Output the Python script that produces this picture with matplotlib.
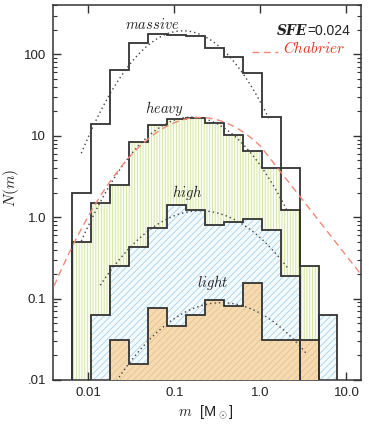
import numpy as np
import matplotlib
matplotlib.use('Agg')
import matplotlib.pyplot as plt
from matplotlib.ticker import FixedLocator, LogLocator, NullLocator, NullFormatter

# DATA

# bin edges, log10(m / Msun)
log_edges = [-2.19, -1.965, -1.745, -1.525, -1.305, -1.085, -0.86, -0.64,
             -0.425, -0.205, 0.02, 0.237, 0.456, 0.676, 0.895]

massive = [2.0, 14, 64, 137, 177, 175, 170, 121, 94, 59, 17, 4.0, 0, 0]
heavy = [0.49, 1.5, 2.5, 8.5, 13.6, 16.2, 16.6, 14.2, 10.1, 6.5, 4.0, 1.24, 0.25, 0]
high = [0, 0.062, 0.25, 0.43, 0.74, 1.43, 1.24, 0.81, 0.88, 0.94, 0.70, 0.19, 0, 0.062]
light = [0, 0, 0.031, 0.0156, 0.076, 0.046, 0.062, 0.095, 0.082, 0.154, 0.031, 0.031, 0.031, 0]

# lognormal fits (dotted): peak N, log m at peak, curvature (dex), log m range
fit_names = ['massive', 'heavy', 'high', 'light']
fit_peak = [195, 17.0, 1.20, 0.089]
fit_logm0 = [-0.90, -0.80, -0.70, -0.45]
fit_curv = [1.08, 0.93, 0.68, 0.645]
fit_lo = [-2.08, -2.08, -1.86, -1.67]
fit_hi = [0.11, 0.32, 0.32, 0.53]

# Chabrier (2005) IMF, scaled
chab_peak = 16.8
chab_mc = 0.2
chab_sigma = 0.55
chab_slope = -1.35

sfe = 0.024

# PLOT

plt.rcParams['font.family'] = 'Liberation Sans'
plt.rcParams['mathtext.fontset'] = 'cm'
plt.rcParams['hatch.linewidth'] = 0.6

fig = plt.figure(figsize=(3.69, 4.24), dpi=100)
ax = fig.add_axes([0.1436, 0.1038, 0.8344, 0.8844])
ax.set_xscale('log')
ax.set_yscale('log')

edges = 10 ** np.array(log_edges)
floor = 1e-5
line_col = '#333333'


def plot_vals(v):
    v = np.array(v, dtype=float)
    return np.where(v > 0, v, floor)


# filled histograms
ax.stairs(plot_vals(heavy), edges, baseline=floor, fill=True, facecolor='#fbfdf2',
          edgecolor='#cfe39c', hatch='||||||', linewidth=0, zorder=1)
ax.stairs(plot_vals(high), edges, baseline=floor, fill=True, facecolor='#f5fbfd',
          edgecolor='#a6d3ea', hatch='/////', linewidth=0, zorder=2)
ax.stairs(plot_vals(light), edges, baseline=floor, fill=True, facecolor='#f6dbb0',
          edgecolor='#e2c394', hatch='/////', linewidth=0, zorder=3)

# outlines
for vals in [massive, heavy, high, light]:
    ax.stairs(plot_vals(vals), edges, baseline=floor, fill=False,
              color=line_col, linewidth=1.3, zorder=4)

# dotted lognormal fits
for i in range(len(fit_names)):
    lm = np.linspace(fit_lo[i], fit_hi[i], 200)
    n = fit_peak[i] * 10 ** (-fit_curv[i] * (lm - fit_logm0[i]) ** 2)
    ax.plot(10 ** lm, n, color='#444444', linestyle=(0, (1, 2.2)), linewidth=1.0, zorder=5)

# Chabrier curve
m = np.logspace(np.log10(0.004), np.log10(15), 400)
lmc = np.log10(chab_mc)
lognorm = chab_peak * np.exp(-(np.log10(m) - lmc) ** 2 / (2 * chab_sigma ** 2))
tail = chab_peak * np.exp(-lmc ** 2 / (2 * chab_sigma ** 2)) * m ** chab_slope
chab = np.where(m < 1, lognorm, tail)
ax.plot(m, chab, color='#f08a78', linestyle=(0, (5, 3.2)), linewidth=1.0, zorder=6)

ax.set_xlim(0.0039, 14.7)
ax.set_ylim(0.01, 405)

ax.xaxis.set_major_locator(FixedLocator([0.01, 0.1, 1, 10]))
ax.xaxis.set_minor_locator(NullLocator())
ax.set_xticklabels(['0.01', '0.1', '1.0', '10.0'])
ax.yaxis.set_major_locator(FixedLocator([0.01, 0.1, 1, 10, 100]))
ax.yaxis.set_minor_locator(LogLocator(base=10, subs=np.arange(2, 10)))
ax.yaxis.set_minor_formatter(NullFormatter())
ax.set_yticklabels(['.01', '0.1', '1.0', '10', '100'])

ax.tick_params(which='both', direction='in', top=True, right=True,
               color=line_col, labelsize=9.5, labelcolor='#222222')
ax.tick_params(which='major', length=6, width=1.0, pad=5)
ax.tick_params(which='minor', length=3, width=0.8)
for sp in ax.spines.values():
    sp.set_color(line_col)
    sp.set_linewidth(1.1)

# labels
for name, x, y in [('massive', 0.321, 0.949), ('heavy', 0.364, 0.723),
                   ('high', 0.435, 0.501), ('light', 0.519, 0.259)]:
    ax.text(x, y, '$' + name + '$', transform=ax.transAxes, ha='center', va='center',
            fontsize=10.5, color='#222222', zorder=7)

t = ax.text(0.964, 0.931, '=%.3f' % sfe, transform=ax.transAxes, ha='right',
            va='center', fontsize=10, color='#222222')
ax.annotate('SFE', xy=(0, 0), xycoords=t, ha='right', va='bottom',
            fontsize=10, fontweight='bold', fontstyle='italic',
            family='DejaVu Serif', color='#222222')

ax.plot([0.646, 0.730], [0.875, 0.875], transform=ax.transAxes, color='#f08a78',
        linestyle=(0, (5, 3.2)), linewidth=1.0)
ax.text(0.747, 0.885, '$Chabrier$', transform=ax.transAxes, ha='left', va='center',
        fontsize=11, color='#e2361e')

fig.text(0.030, 1 - 188 / 424, '$N(m)$', rotation=90, ha='center', va='center',
         fontsize=11, color='#222222')
fig.text(206 / 369, 1 - 412 / 424, r'$m\ \ $[M$_\odot$]', ha='center', va='center',
         fontsize=10.5, color='#222222')

fig.savefig('out.png', dpi=100)
